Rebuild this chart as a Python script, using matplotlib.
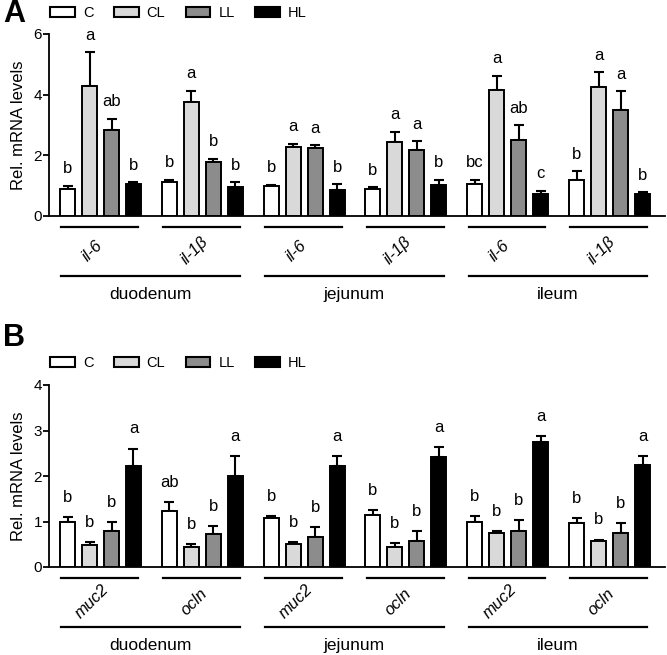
import matplotlib
matplotlib.use("Agg")
import matplotlib.pyplot as plt
from matplotlib.patches import Patch
import numpy as np

plt.rcParams['font.family'] = ['Liberation Sans', 'DejaVu Sans']

groups = ['C', 'CL', 'LL', 'HL']
colors = ['white', '#d9d9d9', '#8c8c8c', 'black']
organs = ['duodenum', 'jejunum', 'ileum']

# panel A: inflammatory genes
genes_a = ['il-6', 'il-1β', 'il-6', 'il-1β', 'il-6', 'il-1β']
mean_a = [[0.90, 4.30, 2.85, 1.05],
          [1.13, 3.76, 1.78, 0.94],
          [1.00, 2.29, 2.23, 0.86],
          [0.90, 2.45, 2.17, 1.02],
          [1.05, 4.14, 2.52, 0.74],
          [1.20, 4.24, 3.48, 0.74]]
sem_a = [[0.10, 1.10, 0.35, 0.06],
         [0.07, 0.37, 0.10, 0.17],
         [0.03, 0.10, 0.10, 0.18],
         [0.04, 0.33, 0.29, 0.18],
         [0.15, 0.48, 0.47, 0.09],
         [0.27, 0.50, 0.63, 0.04]]
sig_a = [['b', 'a', 'ab', 'b'],
         ['b', 'a', 'b', 'b'],
         ['b', 'a', 'a', 'b'],
         ['b', 'a', 'a', 'b'],
         ['bc', 'a', 'ab', 'c'],
         ['b', 'a', 'a', 'b']]

# panel B: barrier genes
genes_b = ['muc2', 'ocln', 'muc2', 'ocln', 'muc2', 'ocln']
mean_b = [[0.98, 0.48, 0.79, 2.23],
          [1.23, 0.43, 0.72, 2.01],
          [1.08, 0.50, 0.66, 2.22],
          [1.15, 0.44, 0.58, 2.42],
          [1.00, 0.74, 0.79, 2.75],
          [0.96, 0.57, 0.74, 2.24]]
sem_b = [[0.12, 0.06, 0.20, 0.37],
         [0.20, 0.07, 0.18, 0.43],
         [0.04, 0.04, 0.21, 0.21],
         [0.10, 0.09, 0.21, 0.21],
         [0.12, 0.05, 0.24, 0.12],
         [0.11, 0.03, 0.22, 0.20]]
sig_b = [['b', 'b', 'b', 'a'],
         ['ab', 'b', 'b', 'a'],
         ['b', 'b', 'b', 'a'],
         ['b', 'b', 'b', 'a'],
         ['b', 'b', 'b', 'a'],
         ['b', 'b', 'b', 'a']]

fig = plt.figure(figsize=(6.67, 6.55), dpi=100)
W, H = 667.0, 655.0

step = 0.216
bw = 0.147


def draw_panel(ax, means, sems, sigs, genes, ymax, yticks, lab_off):
    means = np.array(means)
    sems = np.array(sems)
    n = means.shape[0]
    for i in range(4):
        xs = np.arange(n) + (i - 1.5) * step
        ax.bar(xs, means[:, i], width=bw, color=colors[i], edgecolor='black',
               linewidth=1.4, zorder=3)
        ax.errorbar(xs, means[:, i], yerr=[np.zeros(n), sems[:, i]], fmt='none',
                    ecolor='black', elinewidth=1.5, capsize=3.5, capthick=1.5, zorder=2)
        for g in range(n):
            ax.annotate(sigs[g][i], (xs[g], means[g, i] + sems[g, i]),
                        xytext=(0, lab_off), textcoords='offset points',
                        ha='center', va='baseline', fontsize=12)
    ax.set_xlim(-0.506, 5.545)
    ax.set_ylim(0, ymax)
    ax.set_yticks(yticks)
    ax.set_xticks([])
    for s in ['top', 'right']:
        ax.spines[s].set_visible(False)
    ax.spines['left'].set_linewidth(1.3)
    ax.spines['bottom'].set_linewidth(1.3)
    ax.tick_params(axis='y', length=4, width=1.3, pad=1, labelsize=11)
    tr = ax.get_xaxis_transform()
    for g in range(n):
        ax.plot([g - 0.385, g + 0.37], [-0.06, -0.06], transform=tr,
                color='black', lw=1.6, clip_on=False)
        ax.text(g - 0.08, -0.19, genes[g], transform=tr, rotation=45,
                ha='center', va='center', fontsize=12, style='italic')
    for k, org in enumerate(organs):
        a, b = 2 * k - 0.385, 2 * k + 1 + 0.37
        ax.plot([a, b], [-0.33, -0.33], transform=tr, color='black', lw=1.6,
                clip_on=False)
        ax.text((a + b) / 2, -0.43, org, transform=tr, ha='center',
                va='center', fontsize=12.5)


def draw_legend(ycen):
    handles = [Patch(facecolor=c, edgecolor='black', linewidth=1.5) for c in colors]
    fig.legend(handles, groups, loc='center left',
               bbox_to_anchor=(50 / W, 1 - ycen / H), ncol=4, frameon=False,
               borderpad=0, borderaxespad=0, fontsize=10.5, handlelength=1.7,
               handleheight=0.62, handletextpad=0.55, columnspacing=1.4)


axA = fig.add_axes([49 / W, (H - 216) / H, 616 / W, 182 / H])
draw_panel(axA, mean_a, sem_a, sig_a, genes_a, 6, [0, 2, 4, 6], 9)
axB = fig.add_axes([49 / W, (H - 567) / H, 616 / W, 182 / H])
draw_panel(axB, mean_b, sem_b, sig_b, genes_b, 4, [0, 1, 2, 3, 4], 11)

draw_legend(13)
draw_legend(363)

fig.text(19 / W, 1 - 125 / H, 'Rel. mRNA levels', rotation=90, ha='center',
         va='center', fontsize=12)
fig.text(19 / W, 1 - 476 / H, 'Rel. mRNA levels', rotation=90, ha='center',
         va='center', fontsize=12)
fig.text(14 / W, 1 - 14 / H, 'A', ha='center', va='center', fontsize=22,
         fontweight='bold')
fig.text(14 / W, 1 - 338 / H, 'B', ha='center', va='center', fontsize=22,
         fontweight='bold')

fig.savefig('out.png', dpi=100)
